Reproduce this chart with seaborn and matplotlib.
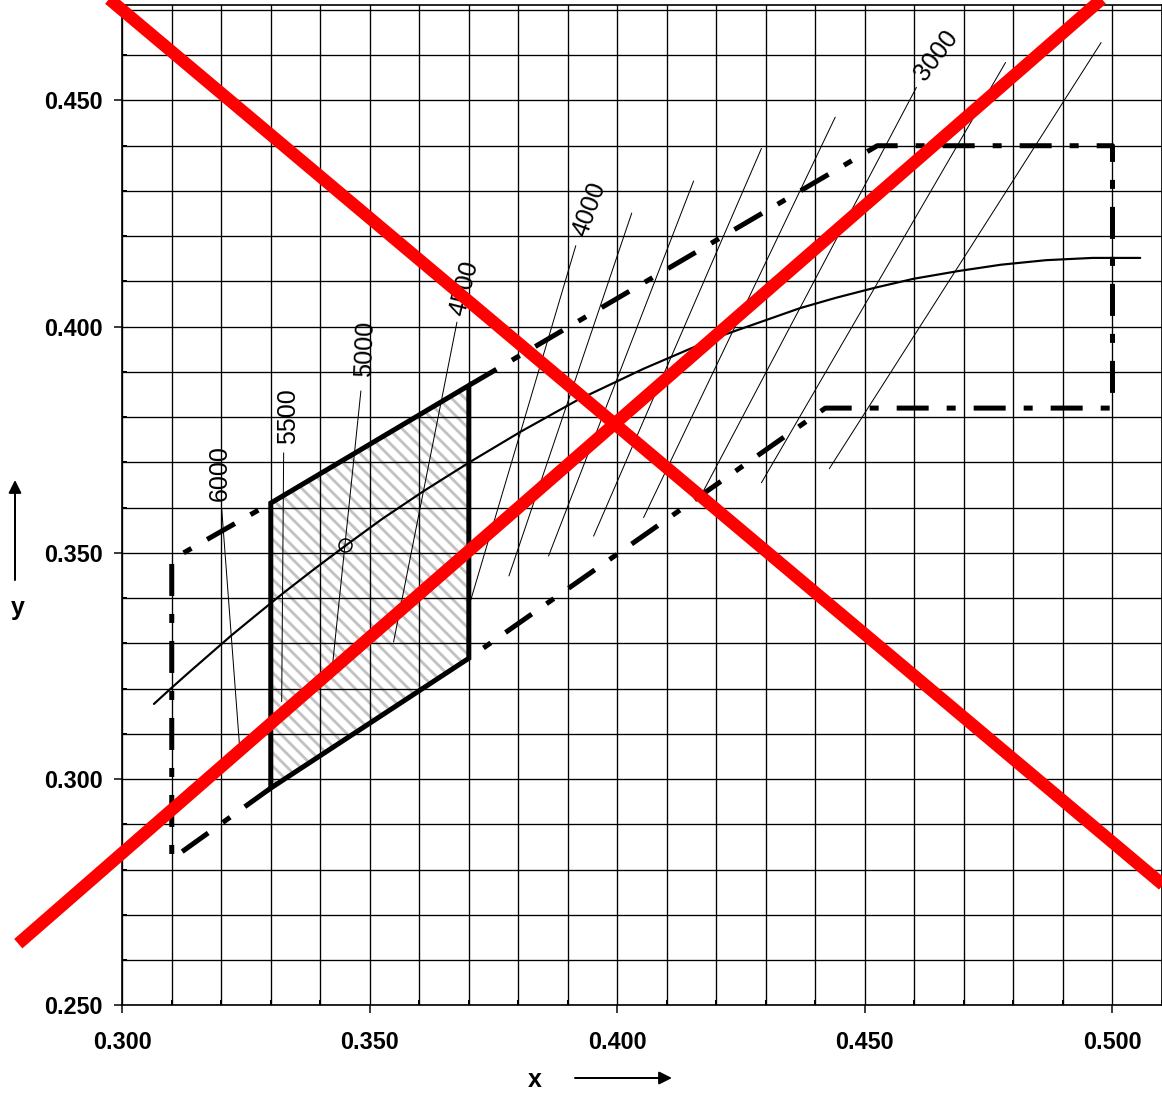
import matplotlib
matplotlib.use("Agg")
import matplotlib.pyplot as plt
from matplotlib.patches import Polygon
from matplotlib.ticker import MultipleLocator, FormatStrFormatter
import numpy as np
import pandas as pd
import seaborn as sns

# black body locus
locus_x = [0.3064, 0.3098, 0.3135, 0.3221, 0.3270, 0.3324, 0.3384, 0.3451, 0.3525,
           0.3608, 0.3701, 0.3805, 0.3920, 0.4053, 0.4200, 0.4369, 0.4442, 0.4520,
           0.4599, 0.4689, 0.4775, 0.4866, 0.4960, 0.5056]
locus_y = [0.3166, 0.3200, 0.3236, 0.3318, 0.3362, 0.3410, 0.3461, 0.3516, 0.3575,
           0.3636, 0.3700, 0.3768, 0.3838, 0.3907, 0.3976, 0.4041, 0.4064, 0.4086,
           0.4106, 0.4123, 0.4137, 0.4147, 0.4152, 0.4152]

# isotemperature lines: top and bottom ends
iso_temps = [6000, 5500, 5000, 4500, 4000, 3800, 3600, 3400, 3200, 3000, 2800, 2600]
iso_x_top = [0.3201, 0.3326, 0.3482, 0.3676, 0.3916, 0.4029, 0.4154, 0.4291, 0.4440, 0.4604, 0.4784, 0.4977]
iso_y_top = [0.3596, 0.3721, 0.3858, 0.4010, 0.4179, 0.4251, 0.4322, 0.4394, 0.4463, 0.4529, 0.4584, 0.4628]
iso_x_bot = [0.3237, 0.3322, 0.3425, 0.3548, 0.3704, 0.3781, 0.3861, 0.3952, 0.4053, 0.4172, 0.4291, 0.4428]
iso_y_bot = [0.3072, 0.3171, 0.3255, 0.3303, 0.3396, 0.3449, 0.3493, 0.3537, 0.3578, 0.3633, 0.3655, 0.3686]

# labels on the isotemperature lines
lab_text = ["6000", "5500", "5000", "4500", "4000", "3000"]
lab_x = [0.3197, 0.3335, 0.3490, 0.3691, 0.3944, 0.4644]
lab_y = [0.3677, 0.3803, 0.3952, 0.4086, 0.4260, 0.4599]
lab_rot = [90, 90, 88, 76, 70, 53]

# hatched quadrangle
quad_x = [0.330, 0.370, 0.370, 0.330]
quad_y = [0.361, 0.387, 0.3267, 0.298]

# dash-dot tolerance boundary
left_x = [0.330, 0.310, 0.310, 0.330]
left_y = [0.298, 0.2823, 0.3485, 0.361]
right_x = [0.370, 0.4525, 0.500, 0.500, 0.442, 0.370]
right_y = [0.387, 0.440, 0.440, 0.382, 0.382, 0.3267]

# marked point
pt_x, pt_y = 0.3449, 0.3517

# red cross
red1_x = [0.295, 0.515]
red1_y = [0.4746, 0.2722]
red2_x = [0.2790, 0.500]
red2_y = [0.2636, 0.4745]

iso_df = pd.DataFrame({
    "temp": iso_temps * 2,
    "x": iso_x_top + iso_x_bot,
    "y": iso_y_top + iso_y_bot,
})

sns.set_theme(style="white")
plt.rcParams["font.family"] = ["Liberation Sans", "DejaVu Sans"]
plt.rcParams["text.color"] = "black"
plt.rcParams["xtick.color"] = "black"
plt.rcParams["ytick.color"] = "black"
plt.rcParams["hatch.linewidth"] = 1.7

fig = plt.figure(figsize=(1162 / 120, 1095 / 120), dpi=120)
ax = fig.add_axes([0.1052, 0.0820, 0.8948, 0.9134])

ax.set_xlim(0.300, 0.510)
ax.set_ylim(0.250, 0.4711)
ax.xaxis.set_major_locator(MultipleLocator(0.05))
ax.yaxis.set_major_locator(MultipleLocator(0.05))
ax.xaxis.set_minor_locator(MultipleLocator(0.01))
ax.yaxis.set_minor_locator(MultipleLocator(0.01))
ax.xaxis.set_major_formatter(FormatStrFormatter("%.3f"))
ax.yaxis.set_major_formatter(FormatStrFormatter("%.3f"))
ax.grid(which="both", color="black", lw=0.8, zorder=1)
for s in ax.spines.values():
    s.set_color("black")
    s.set_linewidth(1.0)
ax.tick_params(which="major", direction="out", length=4.6, width=0.9, colors="black")
ax.tick_params(axis="x", which="major", pad=11)
ax.tick_params(axis="y", which="major", pad=7)
ax.tick_params(which="minor", direction="in", length=3, width=1.2, colors="black")
ax.tick_params(which="both", bottom=True, left=True)
for lab in ax.get_xticklabels() + ax.get_yticklabels():
    lab.set_fontsize(14)
    lab.set_fontweight("bold")
    lab.set_color("black")
ax.set_axisbelow(True)

# hatched area, drawn below the grid
ax.add_patch(Polygon(np.column_stack([quad_x, quad_y]), closed=True, facecolor="none",
                     edgecolor="#c2c2c2", hatch="\\\\\\", lw=0, zorder=0.3))
ax.add_patch(Polygon(np.column_stack([quad_x, quad_y]), closed=True, fill=False,
                     edgecolor="black", lw=3, joinstyle="miter", zorder=4))

# boundary
dd = (0, (6.4, 3.6, 1.8, 3.6))
ax.plot(left_x, left_y, color="black", lw=3, ls=dd, dash_capstyle="butt", zorder=4)
ax.plot(right_x, right_y, color="black", lw=3, ls=dd, dash_capstyle="butt", zorder=4)

# locus and isotemperature lines
sns.lineplot(x=locus_x, y=locus_y, sort=False, color="black", lw=1.3, ax=ax, zorder=3)
sns.lineplot(data=iso_df, x="x", y="y", units="temp", estimator=None, sort=False,
             color="black", lw=0.6, ax=ax, zorder=3)
ax.plot(pt_x, pt_y, marker="o", ms=7.8, mfc="none", mec="black", mew=0.9, zorder=5)

for t, x, y, r in zip(lab_text, lab_x, lab_y, lab_rot):
    ax.text(x, y, t, rotation=r, fontsize=15, color="black", ha="center", va="center",
            rotation_mode="anchor", zorder=5)

# red cross
ax.plot(red1_x, red1_y, color="#ff0000", lw=7.5, solid_capstyle="butt", clip_on=False, zorder=10)
ax.plot(red2_x, red2_y, color="#ff0000", lw=7.5, solid_capstyle="butt", clip_on=False, zorder=10)

ax.set_xlabel("")
ax.set_ylabel("")

# axis names with arrows
fig.text(535 / 1162, 1 - 1080 / 1095, "x", fontsize=15, fontweight="bold", ha="center", va="center")
fig.text(18 / 1162, 1 - 608 / 1095, "y", fontsize=15, fontweight="bold", ha="center", va="center")
arrow = dict(arrowstyle="-|>", color="black", lw=1.2, mutation_scale=16, shrinkA=0, shrinkB=0)
ax.annotate("", xy=(672 / 1162, 1 - 1078 / 1095), xytext=(575 / 1162, 1 - 1078 / 1095),
            xycoords="figure fraction", textcoords="figure fraction", arrowprops=arrow)
ax.annotate("", xy=(15 / 1162, 1 - 480 / 1095), xytext=(15 / 1162, 1 - 580 / 1095),
            xycoords="figure fraction", textcoords="figure fraction", arrowprops=arrow)

fig.savefig("out.png", dpi=120)
